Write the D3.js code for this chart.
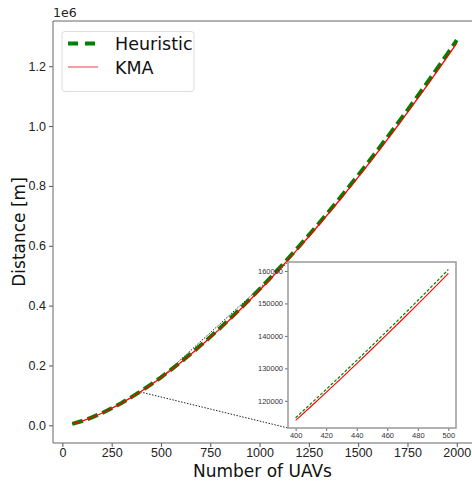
<!DOCTYPE html>
<html><head><meta charset="utf-8">
<script src="https://cdn.jsdelivr.net/npm/d3@7"></script>
<style>body{margin:0;background:#fff}svg{display:block;font-family:"DejaVu Sans",sans-serif}</style>
</head><body><svg id="c" width="472" height="481"></svg>
<script>
const uavs = [50,100,150,200,250,300,350,400,450,500,550,600,650,700,750,800,850,900,950,1000,1050,1100,1150,1200,1250,1300,1350,1400,1450,1500,1550,1600,1650,1700,1750,1800,1850,1900,1950,2000];
const heuristic = [5100,14400,26440,40700,56880,74770,94230,114800,136980,160440,185600,211500,238500,266500,295600,325600,356600,388500,421300,455000,489600,525000,561200,598200,636000,674500,713800,753800,794500,836000,878100,921000,964500,1008600,1053500,1098900,1145000,1191800,1239100,1287100];
const kma = [5050,14280,26240,40400,56450,74200,93500,113950,135960,159240,184200,209900,236700,264500,293400,323200,353900,385600,418100,451600,485900,521100,557000,593700,631200,669400,708400,748100,788500,829700,871500,914000,957300,1001000,1045600,1090700,1136400,1182900,1229800,1277400];
const insetUavs = [400,410,420,430,440,450,460,470,480,490,500];
const insetHeuristic = [114800,119130,123520,127950,132450,136980,141580,146220,150910,155650,160440];
const insetKma = [113950,118240,122600,127000,131460,135960,140520,145130,149790,154490,159240];
const xTicks = [0,250,500,750,1000,1250,1500,1750,2000];
const yTicks = [0,200000,400000,600000,800000,1000000,1200000];
const insetXTicks = [400,420,440,460,480,500];
const insetYTicks = [120000,130000,140000,150000,160000];
const seriesNames = ["Heuristic","KMA"];

const svg = d3.select("#c");
const L=53, R=476, T=21, B=443;
function pad(lo,hi){const r=hi-lo;return [lo-0.05*r,hi+0.05*r];}
const x = d3.scaleLinear().domain(pad(d3.min(uavs),d3.max(uavs))).range([L,R]);
const yAll = heuristic.concat(kma);
const y = d3.scaleLinear().domain(pad(d3.min(yAll),d3.max(yAll))).range([B,T]);

// axes
const gx = svg.append("g").attr("transform",`translate(0,${B})`)
  .call(d3.axisBottom(x).tickValues(xTicks).tickSize(4).tickPadding(1).tickFormat(d3.format("d")));
const gy = svg.append("g").attr("transform",`translate(${L},0)`)
  .call(d3.axisLeft(y).tickValues(yTicks).tickSize(4).tickPadding(3).tickFormat(d=>(d/1e6).toFixed(1)));
[gx,gy].forEach(g=>{g.selectAll("text").attr("font-size",12.5).attr("fill","#222");
  g.selectAll("line").attr("stroke","#555");g.select(".domain").remove();});
// spines
svg.append("path").attr("d",`M${L},${B}V${T}H${R}`).attr("fill","none").attr("stroke","#666").attr("stroke-width",1);
svg.append("line").attr("x1",L).attr("x2",R).attr("y1",B).attr("y2",B).attr("stroke","#666");
svg.append("text").attr("x",L).attr("y",17).attr("font-size",12.5).attr("fill","#222").text("1e6");

// connectors (drawn under inset)
const ix = d3.scaleLinear().domain(pad(d3.min(insetUavs),d3.max(insetUavs))).range([288,456]);
const iyAll = insetHeuristic.concat(insetKma);
const iy = d3.scaleLinear().domain(pad(d3.min(iyAll),d3.max(iyAll))).range([428,262]);
const [ix0,ix1]=ix.domain(), [iy0,iy1]=iy.domain();
svg.append("line").attr("x1",x(ix1)).attr("y1",y(iy1)).attr("x2",288).attr("y2",262)
  .attr("stroke","#222").attr("stroke-width",1).attr("stroke-dasharray","1.5,1.5");
svg.append("line").attr("x1",x(ix0)).attr("y1",y(iy0)).attr("x2",288).attr("y2",428)
  .attr("stroke","#222").attr("stroke-width",1).attr("stroke-dasharray","1.5,1.5");

const line = d3.line().x(d=>x(d[0])).y(d=>y(d[1]));
svg.append("path").datum(uavs.map((u,i)=>[u,heuristic[i]])).attr("d",line)
  .attr("fill","none").attr("stroke","#008000").attr("stroke-width",4).attr("stroke-dasharray","11,5");
svg.append("path").datum(uavs.map((u,i)=>[u,kma[i]])).attr("d",line)
  .attr("fill","none").attr("stroke","red").attr("stroke-width",1.3);

// axis labels
svg.append("text").attr("x",(L+R)/2-2).attr("y",477).attr("text-anchor","middle").attr("font-size",17).attr("fill","#111").text("Number of UAVs");
svg.append("text").attr("transform",`translate(25,${(T+B)/2}) rotate(-90)`).attr("text-anchor","middle").attr("font-size",17).attr("fill","#111").text("Distance [m]");

// legend
const lg = svg.append("g");
lg.append("rect").attr("x",62).attr("y",31.5).attr("width",132).attr("height",60).attr("rx",3)
  .attr("fill","#fff").attr("fill-opacity",0.8).attr("stroke","#ddd");
lg.append("line").attr("x1",68).attr("x2",98).attr("y1",43.5).attr("y2",43.5).attr("stroke","#008000").attr("stroke-width",4).attr("stroke-dasharray","10,7");
lg.append("line").attr("x1",68).attr("x2",98).attr("y1",67).attr("y2",67).attr("stroke","#f08080").attr("stroke-width",1.5);
lg.append("text").attr("x",115).attr("y",50).attr("font-size",17.5).attr("fill","#111").text(seriesNames[0]);
lg.append("text").attr("x",115).attr("y",74).attr("font-size",17.5).attr("fill","#111").text(seriesNames[1]);

// inset
const ins = svg.append("g");
ins.append("rect").attr("x",288).attr("y",262).attr("width",168).attr("height",166).attr("fill","#fff");
const igx = ins.append("g").attr("transform","translate(0,428)")
  .call(d3.axisBottom(ix).tickValues(insetXTicks).tickSize(3).tickPadding(2));
const igy = ins.append("g").attr("transform","translate(288,0)")
  .call(d3.axisLeft(iy).tickValues(insetYTicks).tickSize(3).tickPadding(2).tickFormat(d3.format("d")));
[igx,igy].forEach(g=>{g.selectAll("text").attr("font-size",7.5).attr("fill","#333");
  g.selectAll("line").attr("stroke","#666");g.select(".domain").remove();});
const iline = d3.line().x(d=>ix(d[0])).y(d=>iy(d[1]));
ins.append("path").datum(insetUavs.map((u,i)=>[u,insetHeuristic[i]])).attr("d",iline)
  .attr("fill","none").attr("stroke","#008000").attr("stroke-width",1.2).attr("stroke-dasharray","3,1.8");
ins.append("path").datum(insetUavs.map((u,i)=>[u,insetKma[i]])).attr("d",iline)
  .attr("fill","none").attr("stroke","red").attr("stroke-width",1.1);
ins.append("rect").attr("x",288).attr("y",262).attr("width",168).attr("height",166)
  .attr("fill","none").attr("stroke","#999").attr("stroke-width",1.5);
</script></body></html>
